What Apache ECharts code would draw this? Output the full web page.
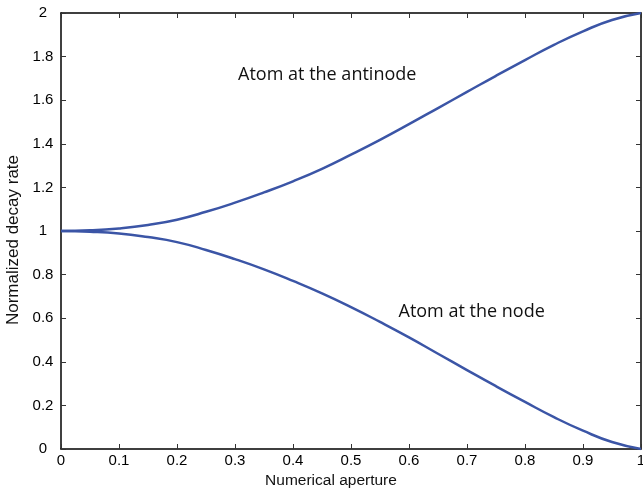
<!DOCTYPE html>
<html>
<head>
<meta charset="utf-8">
<script src="https://cdn.jsdelivr.net/npm/echarts@6/dist/echarts.min.js"></script>
<style>
  html, body { margin: 0; padding: 0; background: #fff; }
  #chart { width: 643px; height: 496px; }
</style>
</head>
<body>
<div id="chart"></div>
<script>
// numerical aperture samples
var apertures = [0, 0.05, 0.1, 0.15, 0.2, 0.25, 0.3, 0.35, 0.4, 0.45, 0.5,
                 0.55, 0.6, 0.65, 0.7, 0.75, 0.8, 0.85, 0.9, 0.95, 1];
// normalized decay rate, atom at the antinode
var antinodeRate = [1.0, 1.003, 1.012, 1.028, 1.052, 1.088, 1.130, 1.177, 1.228, 1.285, 1.350,
                    1.418, 1.490, 1.564, 1.638, 1.712, 1.784, 1.854, 1.916, 1.968, 2.0];
// normalized decay rate, atom at the node
var nodeRate = [1.0, 0.997, 0.989, 0.972, 0.949, 0.913, 0.871, 0.824, 0.771, 0.714, 0.651,
                0.583, 0.512, 0.437, 0.362, 0.288, 0.216, 0.146, 0.084, 0.032, 0.0];
var xTicks = [0, 0.1, 0.2, 0.3, 0.4, 0.5, 0.6, 0.7, 0.8, 0.9, 1];
var yTicks = [0, 0.2, 0.4, 0.6, 0.8, 1, 1.2, 1.4, 1.6, 1.8, 2];
var antinodeLabel = {text: 'Atom at the antinode', x: 0.459, y: 1.716};
var nodeLabel = {text: 'Atom at the node', x: 0.708, y: 0.628};

var myChart = echarts.init(document.getElementById('chart'));

function pairs(xs, ys) {
    let out = [];
    for (let i = 0; i < xs.length; i++) {
        out.push([xs[i], ys[i]]);
    }
    return out;
}

var lineColor = '#3b55a6';
var tickFont = {color: '#000', fontSize: 15, fontFamily: 'Liberation Sans'};
var axisLine = {show: true, onZero: false, lineStyle: {color: '#000', width: 1.5}};
var axisTick = {show: true, inside: true, length: 5, lineStyle: {color: '#333', width: 1}};

function noteMark(note) {
    return {
        symbol: 'circle',
        symbolSize: 0,
        silent: true,
        label: {
            show: true,
            position: 'inside',
            formatter: note.text,
            color: '#111',
            fontSize: 18,
            fontFamily: 'Open Sans'
        },
        data: [{coord: [note.x, note.y]}]
    };
}

myChart.setOption({
    animation: false,
    backgroundColor: '#fff',
    grid: {left: 61, top: 13, right: 2, bottom: 47, containLabel: false, outerBoundsMode: 'none'},
    xAxis: [{
        type: 'value',
        min: 0, max: 1, interval: 0.1,
        name: 'Numerical aperture',
        nameLocation: 'middle',
        nameGap: 24,
        nameTextStyle: {color: '#111', fontSize: 15.5, fontFamily: 'Liberation Sans', padding: [0, 40, 0, 0]},
        axisLine: axisLine,
        axisTick: axisTick,
        splitLine: {show: false},
        axisLabel: Object.assign({margin: 4, formatter: function (v) {
            return xTicks.indexOf(+v.toFixed(1)) >= 0 ? String(+v.toFixed(1)) : '';
        }}, tickFont)
    }, {
        type: 'value',
        position: 'top',
        min: 0, max: 1, interval: 0.1,
        axisLine: axisLine,
        axisTick: axisTick,
        axisLabel: {show: false},
        splitLine: {show: false}
    }],
    yAxis: [{
        type: 'value',
        min: 0, max: 2, interval: 0.2,
        name: 'Normalized decay rate',
        nameLocation: 'middle',
        nameGap: 35,
        nameTextStyle: {color: '#111', fontSize: 17, fontFamily: 'Liberation Sans', padding: [0, 18, 0, 0]},
        axisLine: axisLine,
        axisTick: axisTick,
        splitLine: {show: false},
        axisLabel: Object.assign({margin: 18, align: 'center', formatter: function (v) {
            return yTicks.indexOf(+v.toFixed(1)) >= 0 ? String(+v.toFixed(1)) : '';
        }}, tickFont)
    }, {
        type: 'value',
        position: 'right',
        min: 0, max: 2, interval: 0.2,
        axisLine: axisLine,
        axisTick: axisTick,
        axisLabel: {show: false},
        splitLine: {show: false}
    }],
    series: [{
        name: 'antinode',
        type: 'line',
        smooth: true,
        showSymbol: false,
        lineStyle: {color: lineColor, width: 2.5},
        data: pairs(apertures, antinodeRate),
        markPoint: noteMark(antinodeLabel)
    }, {
        name: 'node',
        type: 'line',
        smooth: true,
        showSymbol: false,
        lineStyle: {color: lineColor, width: 2.5},
        data: pairs(apertures, nodeRate),
        markPoint: noteMark(nodeLabel)
    }]
});

window.onresize = function () {
    myChart.resize();
}
</script>
</body>
</html>
